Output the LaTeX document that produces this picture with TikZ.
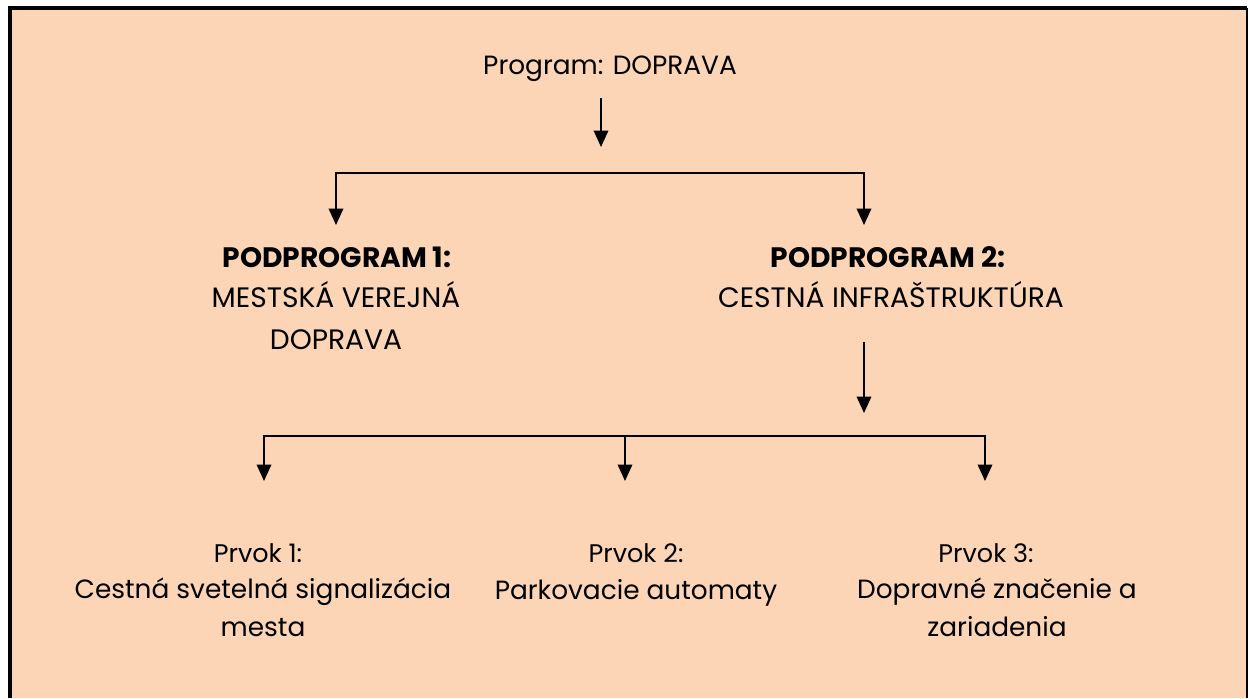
\documentclass[tikz,border=0pt]{standalone}
\usepackage{fontspec}
\setmainfont{Poppins}
\usetikzlibrary{arrows.meta}
\definecolor{peach}{HTML}{FBD5B5}
\newcommand\txtsize{\fontsize{15}{23.3}\selectfont}
\newcommand\capsize{\fontsize{16}{23.8}\selectfont}
\newcommand\lowsize{\fontsize{15}{21.6}\selectfont}
\newcommand\ttlsize{\fontsize{16}{23.3}\selectfont}
\newcommand\prvsize{\fontsize{14.5}{21.6}\selectfont}
\tikzset{lbl/.style={anchor=base, inner sep=0pt, align=center, font=\txtsize},
ttl/.style={lbl, font=\ttlsize\bfseries},
capline/.style={lbl, font=\capsize},
low/.style={lbl, font=\lowsize},
prv/.style={lbl, font=\prvsize},
arr/.style={-{Triangle[width=2.9mm,length=3.3mm]}, line width=0.4mm}}

\begin{document}
\begin{tikzpicture}[x=0.02cm, y=-0.02cm]
        \useasboundingbox (0,0) rectangle (1248,698);
        % frame
        \fill[peach] (10,8) rectangle (1248,698);
        \draw[line width=0.75mm] (10,698) -- (10,8) -- (1247,8);
        \draw[line width=0.3mm] (1247,8) -- (1247,698);

        % texts (multi-line nodes sit on their last baseline)
        \node[lbl] (prog) at (610,74) {Program: DOPRAVA};
        \node[ttl] (pp1) at (337,267) {PODPROGRAM 1:};
        \node[capline] (pp1t) at (336,349) {MESTSKÁ VEREJNÁ\\DOPRAVA};
        \node[ttl] (pp2) at (888,267) {PODPROGRAM 2:};
        \node[capline] (pp2t) at (891,307) {CESTNÁ INFRAŠTRUKTÚRA};
        \node[prv] (pr1) at (258,562) {Prvok 1:};
        \node[low] (pr1t) at (263,636) {Cestná svetelná signalizácia\\mesta};
        \node[prv] (pr2) at (636,562) {Prvok 2:};
        \node[low] (pr2t) at (636,599) {Parkovacie automaty};
        \node[prv] (pr3) at (986,562) {Prvok 3:};
        \node[low] (pr3t) at (997,636) {Dopravné značenie a\\zariadenia};

        % arrows
        \coordinate (a0) at (601,98);
        \coordinate (a1) at (601,147);
        \draw[arr] (a0) -- (a1);
        \coordinate (bar1) at (600,173);
        \coordinate (in1) at (336,225);
        \coordinate (in2) at (864,225);
        \draw[arr] (bar1) -| (in1);
        \draw[arr] (bar1) -| (in2);
        \coordinate (b0) at (864,342);
        \coordinate (b1) at (864,413);
        \draw[arr] (b0) -- (b1);
        \coordinate (bar2) at (625,436);
        \foreach \x [count=\i] in {264,625,985}{
            \coordinate (pv\i) at (\x,481);
            \draw[arr] (bar2) -| (pv\i);
        }
\end{tikzpicture}
\end{document}
